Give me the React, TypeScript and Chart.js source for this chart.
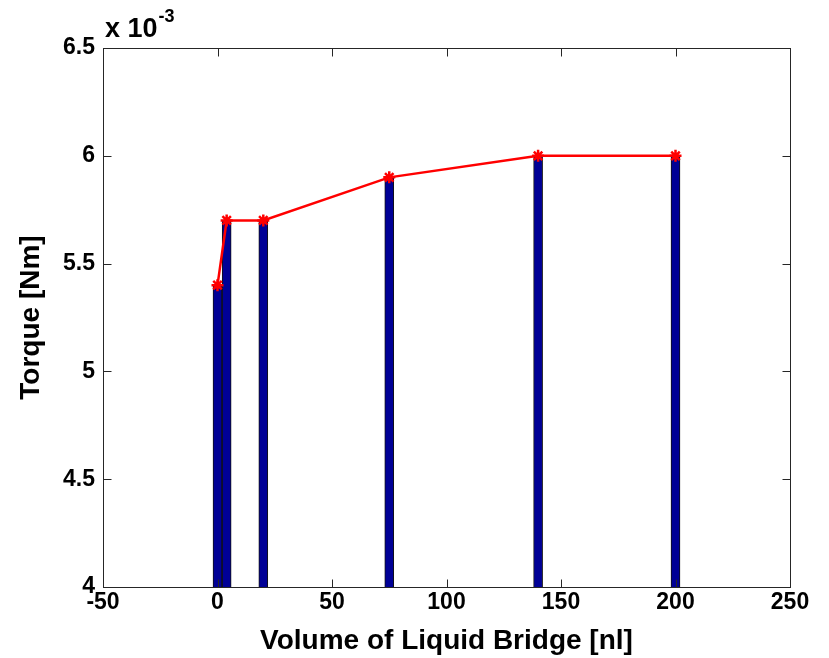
import React, { useEffect, useRef } from "react";
import { Chart, registerables } from "chart.js";

Chart.register(...registerables);

const volumes = [0, 4, 20, 75, 140, 200];
const torques = [5.4, 5.7, 5.7, 5.9, 6.0, 6.0];
const xTicks = [-50, 0, 50, 100, 150, 200, 250];
const yTicks = [4, 4.5, 5, 5.5, 6, 6.5];
const xTitle = "Volume of Liquid Bridge [nl]";
const yTitle = "Torque [Nm]";
const FONT = "'Liberation Sans', Arial, sans-serif";

const boxPlugin = {
  id: "matlabBox",
  afterDraw(chart: any) {
    const { ctx, chartArea: a, scales } = chart;
    ctx.save();
    ctx.strokeStyle = "#262626";
    ctx.lineWidth = 1;
    const L = Math.round(a.left) + 0.5, R = Math.round(a.right) + 0.5;
    const T = Math.round(a.top) + 0.5, B = Math.round(a.bottom) + 0.5;
    ctx.strokeRect(L, T, R - L, B - T);
    ctx.beginPath();
    const len = 8;
    xTicks.forEach((v) => {
      const px = Math.round(scales.x.getPixelForValue(v)) + 0.5;
      ctx.moveTo(px, B); ctx.lineTo(px, B - len);
      ctx.moveTo(px, T); ctx.lineTo(px, T + len);
    });
    yTicks.forEach((v) => {
      const py = Math.round(scales.y.getPixelForValue(v)) + 0.5;
      ctx.moveTo(L, py); ctx.lineTo(L + len, py);
      ctx.moveTo(R, py); ctx.lineTo(R - len, py);
    });
    ctx.stroke();
    ctx.fillStyle = "#000";
    ctx.textBaseline = "alphabetic";
    ctx.textAlign = "left";
    ctx.font = `bold 27px ${FONT}`;
    ctx.fillText("x 10", a.left + 2, 37);
    const w = ctx.measureText("x 10").width;
    ctx.font = `bold 18px ${FONT}`;
    ctx.fillText("-3", a.left + 2 + w + 1, 22);
    ctx.restore();
  },
};

export default function App() {
  const ref = useRef<HTMLCanvasElement>(null);
  useEffect(() => {
    document.body.style.margin = "0";
    const chart = new Chart(ref.current!, {
      type: "bar",
      data: {
        datasets: [
          {
            type: "line",
            data: volumes.map((x, i) => ({ x, y: torques[i] })),
            borderColor: "#ff0000",
            backgroundColor: "#ff0000",
            borderWidth: 2.5,
            pointStyle: "star",
            pointRadius: 6,
            pointBorderWidth: 2.5,
            pointBorderColor: "#ff0000",
            order: 0,
          } as any,
          {
            type: "bar",
            data: volumes.map((x, i) => ({ x, y: torques[i] })),
            backgroundColor: "#000096",
            borderColor: "#111111",
            borderWidth: 1,
            barThickness: 9,
            order: 1,
          } as any,
        ],
      },
      options: {
        responsive: false,
        animation: false,
        layout: { padding: { top: 48, right: 39, left: 0, bottom: 0 } },
        plugins: { legend: { display: false }, tooltip: { enabled: false } },
        scales: {
          x: {
            type: "linear",
            min: -50,
            max: 250,
            offset: false,
            grid: { display: false, drawTicks: false },
            border: { display: false },
            afterBuildTicks: (s: any) => { s.ticks = xTicks.map((v) => ({ value: v })); },
            afterFit: (s: any) => { s.height = 71; },
            ticks: {
              color: "#000",
              padding: 2,
              maxRotation: 0,
              autoSkip: false,
              font: { family: FONT, size: 23, weight: "bold" },
              callback: (v: any) => String(v),
            },
            title: {
              display: true,
              text: xTitle,
              color: "#000",
              font: { family: FONT, size: 28, weight: "bold" },
              padding: { top: 0, bottom: 0 },
            },
          },
          y: {
            type: "linear",
            min: 4,
            max: 6.5,
            grid: { display: false, drawTicks: false },
            border: { display: false },
            afterBuildTicks: (s: any) => { s.ticks = yTicks.map((v) => ({ value: v })); },
            afterFit: (s: any) => { s.width = 103; },
            ticks: {
              color: "#000",
              padding: 8,
              autoSkip: false,
              font: { family: FONT, size: 23, weight: "bold" },
              callback: (v: any) => String(v),
            },
            title: {
              display: true,
              text: yTitle,
              color: "#000",
              font: { family: FONT, size: 28, weight: "bold" },
              padding: { top: 14, bottom: 0 },
            },
          },
        },
      },
      plugins: [boxPlugin],
    });
    return () => chart.destroy();
  }, []);
  return <canvas ref={ref} width={829} height={658} style={{ display: "block" }} />;
}
